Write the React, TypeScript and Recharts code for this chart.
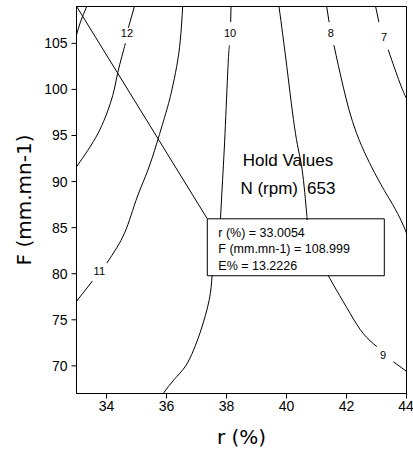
import { ComposedChart, Line, Scatter, XAxis, YAxis, ReferenceArea, ReferenceLine, ReferenceDot, Label } from 'recharts';

// axes
const R_TICKS = [34, 36, 38, 40, 42, 44];
const F_TICKS = [70, 75, 80, 85, 90, 95, 100, 105];
const R_DOMAIN = [33, 44];
const F_DOMAIN = [67, 109];

// contour lines, [r, F]; a null F breaks the line (label gap / under the box)
const contour13 = [[33.0, 105.9], [33.13, 107.3], [33.34, 109.0]];
const contour12 = [
  [33.0, 91.6], [33.38, 93.4], [33.72, 95.25], [33.95, 96.9], [34.13, 98.5],
  [34.27, 100.15], [34.37, 101.75], [34.51, 103.55], [34.63, 105.0], [34.68, null],
  [34.73, 106.7], [34.93, 109.0],
];
const contour11 = [
  [36.54, 109.0], [36.46, 105.35], [36.34, 102.5], [36.18, 99.95], [36.01, 97.8],
  [35.68, 94.2], [35.38, 91.25], [35.05, 88.55], [34.82, 86.35], [34.6, 84.4],
  [34.34, 82.8], [34.01, 81.15], [33.76, null], [33.53, 79.2], [33.0, 77.0],
];
const contour10 = [
  [38.15, 109.0], [38.14, 107.3], [38.12, null], [38.1, 104.8], [38.05, 102.5],
  [37.95, 95.2], [37.87, 90.2], [37.8, 86.0], [37.7, null], [37.52, 79.8],
  [37.42, 77.1], [37.15, 73.9], [36.9, 71.7], [36.62, 69.9],
  [36.25, 68.5], [35.89, 67.0],
];
const contour9 = [
  [39.75, 109.0], [40.01, 102.5], [40.3, 95.2], [40.52, 91.3], [40.67, 86.6],
  [40.69, 86.0], [41.0, null], [41.39, 79.8], [41.67, 78.2], [42.12, 75.7],
  [42.56, 73.5], [43.01, 72.1], [43.22, null], [43.56, 70.45], [44.0, 69.4],
];
const contour8 = [
  [41.34, 109.0], [41.42, 107.3], [41.48, null], [41.58, 104.8], [41.89, 100.3],
  [42.34, 95.2], [43.01, 90.5], [43.45, 88.0], [43.78, 86.05], [44.0, 84.4],
];
const contour7 = [
  [42.97, 109.0], [43.08, 107.3], [43.25, null], [43.39, 104.3], [43.78, 100.7],
  [44.0, 99.0],
];
const CONTOURS = [contour13, contour12, contour11, contour10, contour9, contour8, contour7];

const LABEL_TEXT = ['12', '11', '10', '9', '8', '7'];
const LABEL_R = [34.68, 33.76, 38.12, 43.22, 41.48, 43.25];
const LABEL_F = [106.1, 80.3, 106.1, 71.2, 106.1, 105.7];

// optimum point and its annotation box
const HOLD_R = 33.0054;
const HOLD_F = 108.999;
const BOX_R = [37.36, 43.26];
const BOX_F = [79.78, 85.96];
const BOX_LINES = ['r (%) = 33.0054', 'F (mm.mn-1) = 108.999', 'E% = 13.2226'];
const HOLD_TEXT_AT = { r: 40.05, F: 91.7 };

const toPoints = (c: (number | null)[][]) => c.map(([r, F]) => ({ r, F }));
const labelData = LABEL_TEXT.map((t, i) => ({ r: LABEL_R[i], F: LABEL_F[i], text: t }));

const TICK_FONT = { fill: '#000', fontSize: 14, fontFamily: 'Liberation Sans, Arial, sans-serif' };

export default function App() {
  return (
    <div style={{ position: 'absolute', left: 0, top: 0, background: '#fff' }}>
      <ComposedChart width={413} height={455} margin={{ top: 6.5, right: 6.5, bottom: 0, left: 0 }}>
        <XAxis
          type="number"
          dataKey="r"
          domain={R_DOMAIN}
          ticks={R_TICKS}
          allowDataOverflow
          height={61.5}
          tick={TICK_FONT}
          tickSize={5}
          tickMargin={3}
          axisLine={{ stroke: '#000' }}
          tickLine={{ stroke: '#000' }}
        >
          <Label
            content={({ viewBox }: any) => (
              <text x={viewBox.x + viewBox.width / 2} y={444} textAnchor="middle"
                fontSize={20} fontFamily="DejaVu Sans, sans-serif" fill="#000">r (%)</text>
            )}
          />
        </XAxis>
        <YAxis
          type="number"
          dataKey="F"
          domain={F_DOMAIN}
          ticks={F_TICKS}
          allowDataOverflow
          width={76.5}
          tick={TICK_FONT}
          tickSize={5}
          tickMargin={4}
          axisLine={{ stroke: '#000' }}
          tickLine={{ stroke: '#000' }}
        >
          <Label
            content={({ viewBox }: any) => {
              const cy = viewBox.y + viewBox.height / 2;
              return (
                <text x={31} y={cy} transform={`rotate(-90, 31, ${cy})`} textAnchor="middle"
                  fontSize={20} fontFamily="DejaVu Sans, sans-serif" fill="#000">F (mm.mn-1)</text>
              );
            }}
          />
        </YAxis>

        <ReferenceArea x1={R_DOMAIN[0]} x2={R_DOMAIN[1]} y1={F_DOMAIN[0]} y2={F_DOMAIN[1]}
          fill="none" stroke="#000" strokeWidth={1} />

        {CONTOURS.map((c, i) => (
          <Line
            key={i}
            data={toPoints(c)}
            dataKey="F"
            type="natural"
            stroke="#000"
            strokeWidth={1}
            dot={false}
            activeDot={false}
            isAnimationActive={false}
          />
        ))}

        <Scatter
          data={labelData}
          dataKey="F"
          isAnimationActive={false}
          shape={(p: any) => (
            <text x={p.cx} y={p.cy} textAnchor="middle" dominantBaseline="central"
              fontSize={11} fontFamily="Liberation Sans, Arial, sans-serif" fill="#000">{p.payload.text}</text>
          )}
        />

        <ReferenceLine
          segment={[{ x: HOLD_R, y: HOLD_F }, { x: BOX_R[0], y: BOX_F[1] }]}
          stroke="#000"
          strokeWidth={1}
        />

        <ReferenceDot x={HOLD_TEXT_AT.r} y={HOLD_TEXT_AT.F} r={0} stroke="none" fill="none">
          <Label
            content={({ viewBox }: any) => {
              const cx = viewBox.x + viewBox.width / 2;
              const cy = viewBox.y + viewBox.height / 2;
              const f = { fontSize: 17, fontFamily: 'Liberation Sans, Arial, sans-serif', fill: '#000' };
              return (
                <g>
                  <text x={cx} y={cy} textAnchor="middle" {...f}>Hold Values</text>
                  <text x={cx + 10} y={cy + 28} textAnchor="end" {...f}>N (rpm)</text>
                  <text x={cx + 19} y={cy + 28} textAnchor="start" {...f}>653</text>
                </g>
              );
            }}
          />
        </ReferenceDot>

        <ReferenceArea x1={BOX_R[0]} x2={BOX_R[1]} y1={BOX_F[0]} y2={BOX_F[1]}
          fill="#fff" fillOpacity={1} stroke="#000" strokeWidth={1}>
          <Label
            content={({ viewBox }: any) => (
              <g>
                {BOX_LINES.map((t, i) => (
                  <text key={i} x={viewBox.x + 11} y={viewBox.y + 18 + i * 16.5}
                    fontSize={12.5} fontFamily="Liberation Sans, Arial, sans-serif" fill="#000">{t}</text>
                ))}
              </g>
            )}
          />
        </ReferenceArea>
      </ComposedChart>
    </div>
  );
}
